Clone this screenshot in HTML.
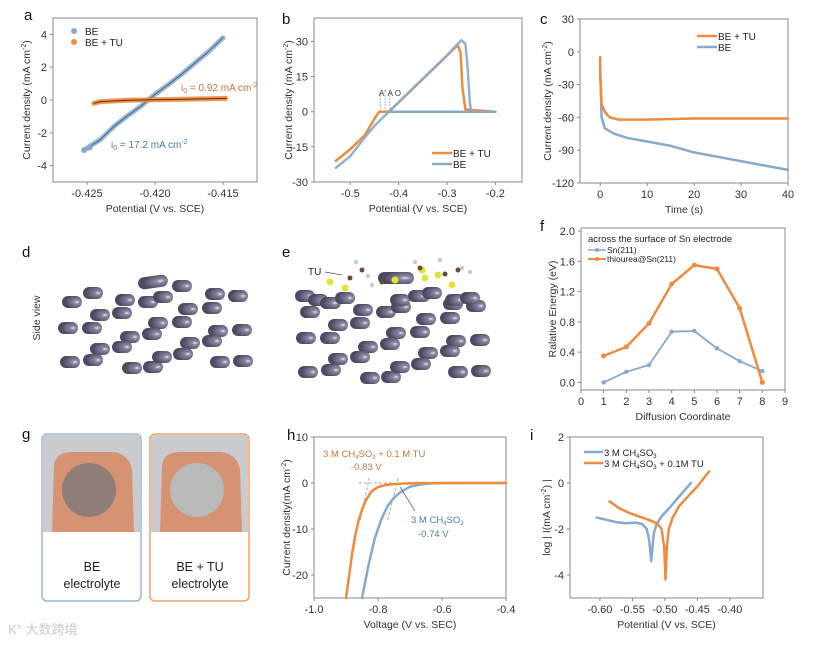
<!DOCTYPE html>
<html><head><meta charset="utf-8"><style>
html,body{margin:0;padding:0;background:#fff;}
svg{display:block;font-family:"Liberation Sans","Noto Sans CJK SC",sans-serif;}
</style></head><body>
<svg id="fig" width="821" height="646" viewBox="0 0 821 646" xmlns="http://www.w3.org/2000/svg"></svg>
<script>
// ---- chart data ----
// a
const aBE_x=[-0.4252,-0.424,-0.423,-0.422,-0.421,-0.420,-0.419,-0.418,-0.417,-0.416,-0.415];
const aBE_y=[-3.05,-2.4,-1.6,-0.95,-0.35,0.35,0.95,1.6,2.3,3.0,3.8];
const aTU_x=[-0.4245,-0.424,-0.422,-0.420,-0.418,-0.416,-0.4148];
const aTU_y=[-0.2,-0.1,-0.02,0.02,0.05,0.08,0.1];
// b
const bBE_x=[-0.53,-0.5,-0.47,-0.45,-0.43,-0.42,-0.38,-0.34,-0.3,-0.28,-0.27,-0.262,-0.257,-0.253,-0.25,-0.2];
const bBE_y=[-24,-19,-11,-6,-2,0,8,16,24,28.5,30.5,29,18,4,0,0];
const bBEflat_x=[-0.42,-0.2];
const bBEflat_y=[0,0];
const bTU_x=[-0.53,-0.5,-0.47,-0.45,-0.44,-0.42,-0.38,-0.34,-0.3,-0.285,-0.278,-0.272,-0.268,-0.262,-0.2];
const bTU_y=[-21,-16,-10,-3,0,0,8,16,24,27,28.5,25,10,1,0];
// c
const cTU_x=[0,0,0.3,1,2,4,10,20,30,40];
const cTU_y=[-5,-20,-48,-55,-60,-62,-62,-61,-61,-61];
const cBE_x=[0,0.3,1,3,6,10,15,20,25,30,35,40];
const cBE_y=[-15,-60,-70,-75,-79,-82,-86,-92,-96,-100,-104,-108];
// f
const fX=[1,2,3,4,5,6,7,8];
const fSn=[0,0.14,0.23,0.67,0.68,0.45,0.28,0.15];
const fTU=[0.35,0.47,0.78,1.3,1.55,1.5,0.98,0];
// h
const hTU_x=[-0.9,-0.89,-0.88,-0.87,-0.86,-0.85,-0.84,-0.82,-0.8,-0.78,-0.76,-0.72,-0.68,-0.4];
const hTU_y=[-25,-20,-15,-11,-8,-5.8,-4,-1.8,-0.9,-0.5,-0.3,-0.1,-0.03,0];
const hBE_x=[-0.85,-0.83,-0.81,-0.79,-0.77,-0.75,-0.73,-0.7,-0.67,-0.64,-0.6,-0.4];
const hBE_y=[-25,-18,-12,-8,-5,-3.2,-2,-0.8,-0.35,-0.1,0,0];
// i
const iBE_x=[-0.605,-0.59,-0.575,-0.56,-0.545,-0.535,-0.528,-0.524,-0.521,-0.519,-0.517,-0.513,-0.505,-0.495,-0.48,-0.46];
const iBE_y=[-1.5,-1.6,-1.7,-1.75,-1.72,-1.78,-2.0,-2.5,-3.4,-2.8,-2.2,-1.8,-1.45,-1.15,-0.65,0];
const iTU_x=[-0.585,-0.57,-0.555,-0.54,-0.525,-0.512,-0.505,-0.501,-0.499,-0.497,-0.494,-0.488,-0.478,-0.465,-0.45,-0.432];
const iTU_y=[-0.8,-1.1,-1.3,-1.45,-1.6,-1.75,-2.0,-2.8,-4.2,-2.8,-2.0,-1.5,-1.0,-0.6,-0.15,0.5];

const BLUE="#86a9cd", ORANGE="#ef8b3f", AX="#8a8a8a";
const svg=document.getElementById('fig');
const NS="http://www.w3.org/2000/svg";
function mk(tag,attrs,parent){const e=document.createElementNS(NS,tag);for(const k in attrs)e.setAttribute(k,attrs[k]);(parent||svg).appendChild(e);return e;}
function txt(s,x,y,size,opts,parent){opts=opts||{};const t=mk('text',{x:x,y:y,'font-size':size,fill:opts.fill||'#222','text-anchor':opts.anchor||'middle'},parent);if(opts.rot)t.setAttribute('transform','rotate(-90 '+x+' '+y+')');t.innerHTML=s;return t;}

function panel(name,b,xd,yd,xt,yt,xl,yl,xfmt,yfmt){
  const g=mk('g',{});
  
  
  const sx=v=>b.x0+(v-xd[0])/(xd[1]-xd[0])*(b.x1-b.x0);
  const sy=v=>b.y1-(v-yd[0])/(yd[1]-yd[0])*(b.y1-b.y0);
  const r=mk('rect',{x:b.x0,y:b.y0,width:b.x1-b.x0,height:b.y1-b.y0,fill:'none',stroke:AX,'stroke-width':1},g);
  
  xt.forEach(v=>{mk('line',{x1:sx(v),x2:sx(v),y1:b.y1,y2:b.y1+3,stroke:AX},g);
    const t=txt(xfmt(v),sx(v),b.y1+15,11,{fill:'#333'},g);
    });
  yt.forEach(v=>{mk('line',{x1:b.x0-3,x2:b.x0,y1:sy(v),y2:sy(v),stroke:AX},g);
    const t=txt(yfmt(v),b.x0-6,sy(v)+4,11,{fill:'#333',anchor:'end'},g);
    });
  const xa=txt(xl,(b.x0+b.x1)/2,b.y1+30,10.5,{fill:'#333'},g);
  
  const ya=txt(yl,b.yx,(b.y0+b.y1)/2,10.5,{fill:'#333',rot:true},g);
  
  return {g,sx,sy};
}
function line(p,xs,ys,color,w,name,extra){
  const d=xs.map((x,i)=>(i?'L':'M')+p.sx(x).toFixed(1)+' '+p.sy(ys[i]).toFixed(1)).join(' ');
  const e=mk('path',Object.assign({d:d,fill:'none',stroke:color,'stroke-width':w,'stroke-linejoin':'round','stroke-linecap':'round'},extra||{}),p.g);
  return e;
}
function dots(p,xs,ys,color,rad,name){
  xs.forEach((x,i)=>{const c=mk('circle',{cx:p.sx(x),cy:p.sy(ys[i]),r:rad,fill:color},p.g);
  });
}
function label(s,x,y){const t=txt(s,x,y,15,{fill:'#111',anchor:'start'});}
const f1=v=>v.toFixed(1), f2=v=>v.toFixed(2), f3=v=>v.toFixed(3), f0=v=>String(v);
const CD='Current density (mA cm<tspan font-size="7" dy="-4">-2</tspan><tspan dy="4">)</tspan>';

// ---- a ----
label('a',24,20);
let pa=panel('chart-a',{x0:53,x1:257,y0:18,y1:182,yx:30},[-0.4275,-0.4125],[-5,5],[-0.425,-0.42,-0.415],[-4,-2,0,2,4],'Potential (V vs. SCE)',CD,f3,f0);
line(pa,aBE_x,aBE_y,BLUE,5,'series-be',{opacity:0.8});
line(pa,aBE_x,aBE_y,'#3f5f86',1,'fit-be');
line(pa,aTU_x,aTU_y,ORANGE,5,'series-be-tu',{opacity:0.9});
line(pa,aTU_x,aTU_y,'#5a2a10',1,'fit-be-tu');
dots(pa,[-0.4252,-0.4248],[-3.05,-2.9],BLUE,3,'be-point');
mk('circle',{cx:74,cy:31,r:3,fill:BLUE});txt('BE',85,35,10,{anchor:'start'});
mk('circle',{cx:74,cy:42,r:3,fill:ORANGE});txt('BE + TU',85,46,10,{anchor:'start'});
txt('i<tspan font-size="7" dy="2">0</tspan><tspan dy="-2"> = 0.92 mA cm</tspan><tspan font-size="7" dy="-4">-2</tspan>',181,91,10,{fill:'#c8763a',anchor:'start'});
txt('i<tspan font-size="7" dy="2">0</tspan><tspan dy="-2"> = 17.2 mA cm</tspan><tspan font-size="7" dy="-4">-2</tspan>',111,148,10,{fill:'#4b78b0',anchor:'start'});

// ---- b ----
label('b',282,24);
let pb=panel('chart-b',{x0:314,x1:522,y0:18,y1:182,yx:292},[-0.575,-0.145],[-30,40],[-0.5,-0.4,-0.3,-0.2],[-30,-15,0,15,30],'Potential (V vs. SCE)',CD,f1,f0);
line(pb,bBEflat_x,bBEflat_y,BLUE,2.5,'series-be-flat');
line(pb,bTU_x,bTU_y,ORANGE,2.5,'series-be-tu');
line(pb,bBE_x,bBE_y,BLUE,2.5,'series-be',{opacity:0.9});
[-0.438,-0.428,-0.418].forEach(v=>mk('line',{x1:pb.sx(v),x2:pb.sx(v),y1:pb.sy(0),y2:pb.sy(8),stroke:'#999','stroke-dasharray':'1.5,1.5'},pb.g));
txt('A\' A O',390,96,8,{fill:'#333'});
mk('line',{x1:432,x2:452,y1:153,y2:153,stroke:ORANGE,'stroke-width':2.5});txt('BE + TU',453,157,10,{anchor:'start'});
mk('line',{x1:432,x2:452,y1:164,y2:164,stroke:BLUE,'stroke-width':2.5});txt('BE',453,168,10,{anchor:'start'});

// ---- c ----
label('c',540,24);
let pc=panel('chart-c',{x0:580,x1:788,y0:19,y1:183,yx:551},[-4.3,40],[-120,30],[0,10,20,30,40],[-120,-90,-60,-30,0,30],'Time (s)',CD,f0,f0);
line(pc,cBE_x,cBE_y,BLUE,2.5,'series-be');
line(pc,cTU_x,cTU_y,ORANGE,2.5,'series-be-tu');
mk('line',{x1:697,x2:717,y1:36,y2:36,stroke:ORANGE,'stroke-width':2.5});txt('BE + TU',718,40,10,{anchor:'start'});
mk('line',{x1:697,x2:717,y1:47,y2:47,stroke:BLUE,'stroke-width':2.5});txt('BE',718,51,10,{anchor:'start'});

// ---- f ----
label('f',540,231);
let pf=panel('chart-f',{x0:581,x1:785,y0:228,y1:390,yx:556},[0,9],[-0.1,2.04],[0,1,2,3,4,5,6,7,8,9],[0,0.4,0.8,1.2,1.6,2.0],'Diffusion Coordinate','Ralative Energy (eV)',f0,f1);
line(pf,fX,fSn,BLUE,1.8,'series-sn211');dots(pf,fX,fSn,BLUE,2.2,'sn211-point');
line(pf,fX,fTU,ORANGE,2.5,'series-thiourea');dots(pf,fX,fTU,ORANGE,2.5,'thiourea-point');
txt('across the surface of Sn electrode',588,242,9.5,{anchor:'start'});
mk('line',{x1:588,x2:606,y1:250,y2:250,stroke:BLUE,'stroke-width':1.5});mk('circle',{cx:597,cy:250,r:2,fill:BLUE});txt('Sn(211)',607,253,8.5,{anchor:'start'});
mk('line',{x1:588,x2:606,y1:259,y2:259,stroke:ORANGE,'stroke-width':2});mk('circle',{cx:597,cy:259,r:2,fill:ORANGE});txt('thiourea@Sn(211)',607,262,8.5,{anchor:'start'});

// ---- h ----
label('h',287,440);
let ph=panel('chart-h',{x0:314,x1:506,y0:437,y1:598,yx:290},[-1.0,-0.4],[-25,10],[-1.0,-0.8,-0.6,-0.4],[-20,-10,0,10],'Voltage (V vs. SEC)','Current density(mA cm<tspan font-size="7" dy="-4">-2</tspan><tspan dy="4">)</tspan>',f1,f0);
mk('line',{x1:ph.sx(-0.86),x2:ph.sx(-0.69),y1:ph.sy(0),y2:ph.sy(0),stroke:'#aaa','stroke-dasharray':'3,2'},ph.g);
mk('line',{x1:ph.sx(-0.855),x2:ph.sx(-0.826),y1:ph.sy(-8),y2:ph.sy(1.5),stroke:'#aaa','stroke-dasharray':'3,2'},ph.g);
mk('line',{x1:ph.sx(-0.77),x2:ph.sx(-0.735),y1:ph.sy(-8),y2:ph.sy(1.5),stroke:'#aaa','stroke-dasharray':'3,2'},ph.g);
line(ph,hBE_x,hBE_y,BLUE,2.5,'series-ch4so3');
line(ph,hTU_x,hTU_y,ORANGE,2.5,'series-ch4so3-tu');
mk('line',{x1:400,x2:415,y1:487,y2:511,stroke:'#666','stroke-width':0.8});
txt('3 M CH<tspan font-size="6" dy="2">4</tspan><tspan dy="-2">SO</tspan><tspan font-size="6" dy="2">3</tspan><tspan dy="-2"> + 0.1 M TU</tspan>',323,457,9.5,{fill:'#c8763a',anchor:'start'});
txt('-0.83 V',351,470,9.5,{fill:'#c8763a',anchor:'start'});
txt('3 M CH<tspan font-size="6" dy="2">4</tspan><tspan dy="-2">SO</tspan><tspan font-size="6" dy="2">3</tspan>',411,523,9.5,{fill:'#4b7f9e',anchor:'start'});
txt('-0.74 V',418,537,9.5,{fill:'#4b7f9e',anchor:'start'});

// ---- i ----
label('i',530,440);
let pi=panel('chart-i',{x0:570,x1:763,y0:437,y1:598,yx:550},[-0.646,-0.349],[-5,2],[-0.6,-0.55,-0.5,-0.45,-0.4],[-4,-2,0,2],'Potential (V vs. SCE)','log | I(mA cm<tspan font-size="7" dy="-4">-2</tspan><tspan dy="4">) |</tspan>',f2,f0);
line(pi,iBE_x,iBE_y,BLUE,2.5,'series-ch4so3');
line(pi,iTU_x,iTU_y,ORANGE,2.5,'series-ch4so3-tu');
mk('line',{x1:584,x2:603,y1:452,y2:452,stroke:BLUE,'stroke-width':2.5});
txt('3 M CH<tspan font-size="6" dy="2">4</tspan><tspan dy="-2">SO</tspan><tspan font-size="6" dy="2">3</tspan>',604,456,9.5,{anchor:'start'});
mk('line',{x1:584,x2:603,y1:463,y2:463,stroke:ORANGE,'stroke-width':2.5});
txt('3 M CH<tspan font-size="6" dy="2">4</tspan><tspan dy="-2">SO</tspan><tspan font-size="6" dy="2">3</tspan><tspan dy="-2"> + 0.1M TU</tspan>',604,467,9.5,{anchor:'start'});

// ---- d / e atoms ----
label('d',22,257);label('e',282,257);
const sv=txt('Side view',40,318,10.5,{fill:'#333',rot:true});
const atoms=[[72,302],[93,293],[125,300],[148,302],[163,297],[182,286],[215,294],[238,296],[100,315],[122,313],[158,323],[188,309],[212,308],[68,328],[92,328],[182,322],[130,337],[152,334],[218,331],[242,330],[100,349],[122,347],[190,343],[212,341],[70,362],[93,360],[132,368],[153,367],[162,357],[183,354],[220,362],[243,361]];
const defs=mk('defs',{});
const rg=mk('radialGradient',{id:'atm',cx:'0.75',cy:'0.5',r:'0.6'},defs);
mk('stop',{offset:'0','stop-color':'#e8e8f2'},rg);mk('stop',{offset:'0.25','stop-color':'#8a88a0'},rg);mk('stop',{offset:'1','stop-color':'#4c4a62'},rg);
function atom(x,y,name){const e=mk('rect',{x:x-10,y:y-6,width:20,height:12,rx:6,fill:'url(#atm)'});}
atoms.forEach(a=>atom(a[0],a[1],'sn-atom'));
mk('rect',{x:138,y:276,width:30,height:12,rx:6,fill:'url(#atm)',transform:'rotate(-8 153 282)'});
atoms.forEach(a=>atom(a[0]+238,a[1]+10,'sn-atom'));
[[305,296],[318,300],[330,303],[345,298],[400,300],[418,296],[432,293],[455,300],[470,298]].forEach(a=>atom(a[0],a[1],'sn-atom-surface'));
mk('rect',{x:378,y:272,width:36,height:12,rx:6,fill:'url(#atm)'});
[[330,282],[345,288],[395,280],[425,278],[438,275],[422,270],[452,285]].forEach(a=>mk('circle',{cx:a[0],cy:a[1],r:3.5,fill:'#e6e03a'}));
[[350,278],[362,270],[382,282],[420,268],[445,274],[458,270]].forEach(a=>mk('circle',{cx:a[0],cy:a[1],r:2.5,fill:'#6b4a3a'}));
[[356,262],[368,276],[372,285],[415,262],[440,260],[462,268],[470,272]].forEach(a=>mk('circle',{cx:a[0],cy:a[1],r:2.2,fill:'#c8c8d8'}));
txt('TU',308,275,10,{anchor:'start'});mk('line',{x1:325,x2:342,y1:272,y2:275,stroke:'#555','stroke-width':0.7});

// ---- g photos ----
label('g',22,439);
function card(x,color,l1,l2,inner){
  const g=mk('g',{});
  mk('rect',{x:x,y:434,width:99,height:167,rx:5,fill:'#fff',stroke:color,'stroke-width':1.5},g);
  mk('rect',{x:x+1,y:435,width:97,height:97,fill:'#c9cbcf'},g);
  mk('path',{d:'M'+(x+10)+' 532 L'+(x+12)+' 465 Q'+(x+14)+' 452 '+(x+30)+' 452 L'+(x+72)+' 452 Q'+(x+88)+' 455 '+(x+90)+' 470 L'+(x+92)+' 532 Z',fill:'#d69373'},g);
  mk('circle',{cx:x+47,cy:490,r:27,fill:inner},g);
  txt(l1,x+50,571,12.5,{fill:'#222'},g);txt(l2,x+50,588,12.5,{fill:'#222'},g);
}
card(42,'#9ab7d2','BE','electrolyte','#8f7d78');
card(150,'#eda06a','BE + TU','electrolyte','#b8b9b9');
const wm=txt('K° 大数跨境',8,634,13,{fill:'#c8c8c8',anchor:'start'});
</script>
</body></html>
